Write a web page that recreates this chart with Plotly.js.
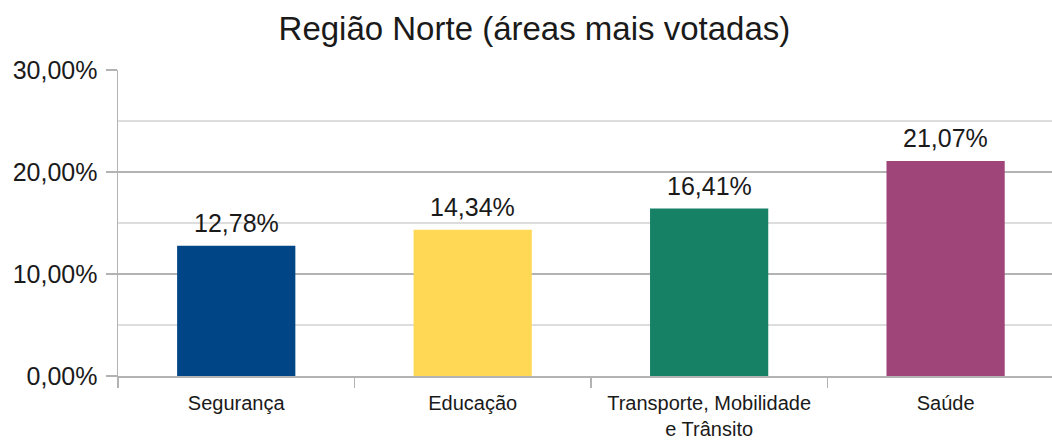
<!DOCTYPE html>
<html>
<head>
<meta charset="utf-8">
<script src="https://cdn.plot.ly/plotly-3.0.1.min.js"></script>
<style>html,body{margin:0;padding:0;background:#fff;}#chart{width:1052px;height:441px;}</style>
</head>
<body>
<div id="chart"></div>
<script>
const categories = ["Segurança", "Educação", "Transporte, Mobilidade<br>e Trânsito", "Saúde"];
const values = [0.1278, 0.1434, 0.1641, 0.2107];
const barColors = ["#004586", "#ffd955", "#168165", "#9f457a"];
const chartTitle = "Região Norte (áreas mais votadas)";

const FONT = "Liberation Sans, Arial, sans-serif";

const trace = {
  type: "bar",
  x: categories,
  y: values,
  width: 0.5,
  marker: {color: barColors, line: {width: 0}},
  hoverinfo: "none"
};

// Data labels formatted with comma decimal, positioned through the axes
const fmtPct = v => (v * 100).toFixed(2).replace(".", ",") + "%";
const labelAnnotations = categories.map((c, i) => ({
  x: c,
  y: values[i],
  xref: "x",
  yref: "y",
  text: fmtPct(values[i]),
  showarrow: false,
  yanchor: "bottom",
  yshift: 7,
  font: {family: FONT, size: 25, color: "#1a1a1a"}
}));

const layout = {
  width: 1052,
  height: 441,
  separators: ",.",
  margin: {l: 118, r: 0, t: 70, b: 65},
  paper_bgcolor: "#ffffff",
  plot_bgcolor: "#ffffff",
  showlegend: false,
  bargap: 0.5,
  title: {
    text: chartTitle,
    x: 0.508, xanchor: "center",
    y: 0.935, yanchor: "middle",
    font: {family: FONT, size: 33, color: "#1a1a1a"}
  },
  xaxis: {
    type: "category",
    range: [-0.5, 3.45],
    showline: true,
    linecolor: "#b3b3b3",
    linewidth: 1.5,
    ticks: "outside",
    tickson: "boundaries",
    ticklen: 10,
    tickcolor: "#b3b3b3",
    tickwidth: 1.5,
    showgrid: false,
    ticklabelstandoff: 8,
    tickfont: {family: FONT, size: 20, color: "#1a1a1a"},
    fixedrange: true
  },
  yaxis: {
    range: [0, 0.3],
    dtick: 0.1,
    tickformat: ".2%",
    showline: true,
    linecolor: "#b3b3b3",
    linewidth: 1.5,
    ticks: "outside",
    ticklen: 11,
    tickcolor: "#b3b3b3",
    tickwidth: 1.5,
    showgrid: true,
    gridcolor: "#b3b3b3",
    gridwidth: 1.5,
    zeroline: false,
    ticklabelstandoff: 3,
    minor: {dtick: 0.05, showgrid: true, gridcolor: "#dddddd", gridwidth: 1.5, ticks: ""},
    tickfont: {family: FONT, size: 25, color: "#1a1a1a"},
    fixedrange: true
  },
  annotations: labelAnnotations
};

Plotly.newPlot("chart", [trace], layout, {displayModeBar: false, staticPlot: true});
</script>
</body>
</html>
